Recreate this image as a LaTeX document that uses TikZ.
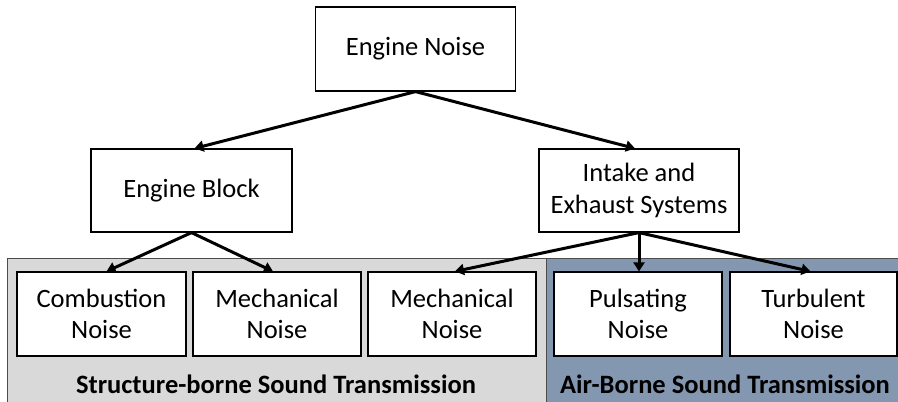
\documentclass[tikz,border=0pt]{standalone}
\usepackage{fontspec}
\setmainfont{Carlito}
\usetikzlibrary{arrows.meta}
\definecolor{regiongray}{HTML}{D9D9D9}
\definecolor{regionblue}{HTML}{8497B0}
\begin{document}
\begin{tikzpicture}[x=1pt,y=-1pt,
  box/.style={draw=black,line width=1.2pt,fill=white,align=center,inner sep=0pt,font=\fontsize{26.5}{31.5}\selectfont},
  arr/.style={line width=3pt,-{Triangle[length=9pt,width=11pt]}},
  region/.style={draw=black!70,line width=1pt},
  regionlabel/.style={font=\bfseries\fontsize{26.5}{31.5}\selectfont}]
\useasboundingbox (0,0) rectangle (898,402);
\fill[white] (0,0) rectangle (898,402);
% regions
\draw[region,fill=regiongray] (7,258) rectangle (546,404);
\draw[region,fill=regionblue] (546,258) rectangle (900,404);
\node[regionlabel] (sblabel) at (276,384) {Structure-borne Sound Transmission};
\node[regionlabel] (ablabel) at (725,384) {Air-Borne Sound Transmission};
% top boxes
\node[box,minimum width=200pt,minimum height=84pt] (en) at (415.5,49) {Engine Noise};
\node[box,minimum width=201pt,minimum height=83pt] (eb) at (191.5,190.5) {Engine Block};
\node[box,minimum width=200pt,minimum height=83pt] (ie) at (639,190.5) {Intake and\\Exhaust Systems};
% bottom boxes
\node[box,minimum width=169pt,minimum height=84pt] (cn) at (101.5,314) {Combustion\\Noise};
\node[box,minimum width=168pt,minimum height=84pt] (mn1) at (277,314) {Mechanical\\Noise};
\node[box,minimum width=168pt,minimum height=84pt] (mn2) at (452,314) {Mechanical\\Noise};
\node[box,minimum width=168pt,minimum height=84pt] (pn) at (638,314) {Pulsating\\Noise};
\node[box,minimum width=167pt,minimum height=84pt] (tn) at (813.5,314) {Turbulent\\Noise};
% arrows
\draw[arr] (en.south) -- ([xshift=3pt]eb.north);
\draw[arr] (en.south) -- ([xshift=-4pt]ie.north);
\draw[arr] (eb.south) -- ([xshift=5pt]cn.north);
\draw[arr] (eb.south) -- ([xshift=-4pt]mn1.north);
\draw[arr] (ie.south) -- ([xshift=3pt]mn2.north);
\draw[arr] (ie.south) -- (ie.south |- pn.north);
\draw[arr] (ie.south) -- ([xshift=-3pt]tn.north);
\end{tikzpicture}
\end{document}
